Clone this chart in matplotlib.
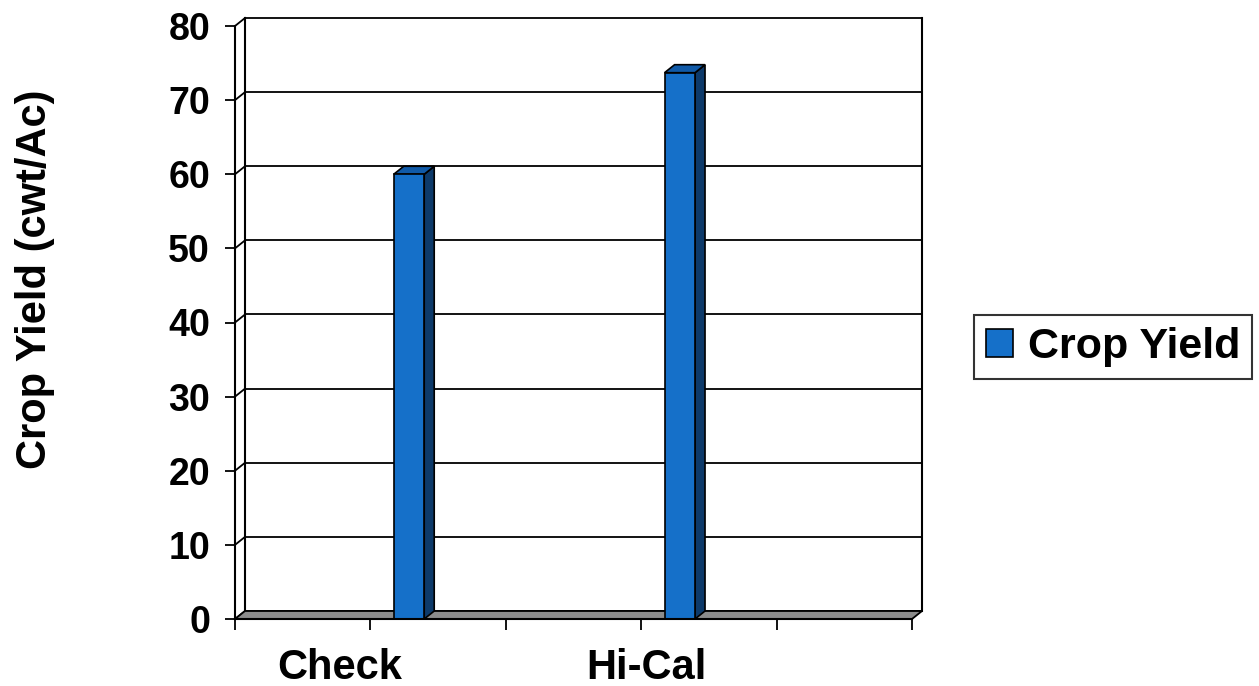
import numpy as np
import matplotlib.pyplot as plt
from matplotlib.patches import Polygon, Rectangle

categories = ["Check", "Hi-Cal"]
crop_yield = [60, 73.7]
y_ticks = np.arange(0, 81, 10)

plt.rcParams['font.family'] = ['Liberation Sans', 'DejaVu Sans']
plt.rcParams['font.weight'] = 'bold'

W, H = 1259, 686
fig = plt.figure(figsize=(W / 100, H / 100), dpi=100)
ax = fig.add_axes([235 / W, 1 - 619 / H, 677 / W, 593 / H])
ax.set_xlim(0, 5)
ax.set_ylim(0, 80)

# depth of the fake 3d look, in data units (about 10px right, 8px up)
DX = 10 / (677 / 5)
DY = 8 / (593 / 80)

front = "#1570c9"
top = "#105aa8"
side = "#0d3a6a"

# back wall gridlines
for v in y_ticks:
    ax.plot([DX, 5 + DX], [v + DY, v + DY], color="k", lw=1.3, zorder=1, clip_on=False)
    ax.plot([0, DX], [v, v + DY], color="k", lw=1.3, zorder=1, clip_on=False)
ax.plot([DX, DX], [DY, 80 + DY], color="k", lw=1.5, zorder=1, clip_on=False)
ax.plot([5 + DX, 5 + DX], [DY, 80 + DY], color="k", lw=1.5, zorder=1, clip_on=False)

# floor
ax.add_patch(Polygon([(0, 0), (5, 0), (5 + DX, DY), (DX, DY)], closed=True,
                     facecolor="#8c8c8c", edgecolor="k", lw=1.3, zorder=2, clip_on=False))

# bars
pos = np.arange(len(categories)) * 2 + 1.285
w = 0.225
for x, v in zip(pos, crop_yield):
    x0 = x - w / 2
    ax.add_patch(Polygon([(x0 + w, 0), (x0 + w + DX, DY), (x0 + w + DX, v + DY), (x0 + w, v)],
                         closed=True, facecolor=side, edgecolor="k", lw=1.2, zorder=3, clip_on=False))
    ax.add_patch(Polygon([(x0, v), (x0 + w, v), (x0 + w + DX, v + DY), (x0 + DX, v + DY)],
                         closed=True, facecolor=top, edgecolor="k", lw=1.2, zorder=3, clip_on=False))
    ax.add_patch(Rectangle((x0, 0), w, v, facecolor=front, edgecolor="k", lw=1.2, zorder=4))

for s in ["top", "right"]:
    ax.spines[s].set_visible(False)
for s in ["left", "bottom"]:
    ax.spines[s].set_linewidth(1.5)
    ax.spines[s].set_zorder(5)

ax.set_yticks(y_ticks)
ax.tick_params(axis="y", length=7, width=1.3, pad=11, labelsize=27)
ax.set_xticks(np.arange(6))
ax.set_xticklabels([])
ax.tick_params(axis="x", which="major", length=8, width=1.3)
ax.set_xticks([0.775, 3.04], minor=True)
ax.set_xticklabels(categories, minor=True)
ax.tick_params(axis="x", which="minor", length=0, pad=21, labelsize=30)

fig.text(35 / W, 1 - 279 / H, "Crop Yield (cwt/Ac)", rotation=90, fontsize=30,
         fontweight="bold", ha="center", va="center")

handle = Rectangle((0, 0), 1, 1, facecolor=front, edgecolor="k", lw=1.2)
leg = fig.legend([handle], ["Crop Yield"], loc="center left",
                 bbox_to_anchor=(974 / W, 1 - 347 / H), fontsize=31, frameon=True,
                 fancybox=False, edgecolor="k", handlelength=0.62, handleheight=0.62,
                 handletextpad=0.35, borderpad=0.28, borderaxespad=0)
leg.get_frame().set_linewidth(1.5)

plt.savefig("out.png", dpi=100)
